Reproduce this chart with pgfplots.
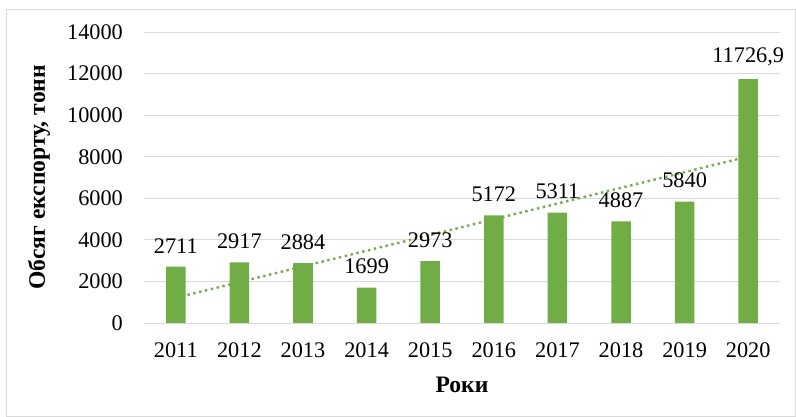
\documentclass[border=0pt]{standalone}
\usepackage{pgfplots}
\pgfplotsset{compat=1.18}
\usepackage{fontspec}
\setmainfont{Liberation Serif}
\definecolor{bargreen}{HTML}{70AD47}
\definecolor{gridgray}{HTML}{D9D9D9}
\begin{document}
\fontsize{22.3}{26}\selectfont
\begin{tikzpicture}
\begin{axis}[
  at={(0pt,0pt)}, anchor=south west,
  scale only axis, width=636pt, height=291pt,
  xmin=-0.5, xmax=9.5, ymin=0, ymax=14000,
  ytick={0,2000,...,14000},
  xtick={0,...,9},
  xticklabels={2011,2012,2013,2014,2015,2016,2017,2018,2019,2020},
  ymajorgrids, grid style={gridgray, line width=0.9pt},
  axis lines*=left,
  y axis line style={draw=none},
  x axis line style={draw=gridgray, line width=0.9pt, -},
  major tick length=0pt,
  scaled y ticks=false,
  /pgf/number format/assume math mode=true,
  /pgf/number format/1000 sep={},
  tick label style={font=\fontsize{22.3}{26}\selectfont},
  yticklabel style={xshift=-13.5pt},
  xticklabel style={yshift=-12.5pt},
  clip=false,
]
\addplot[ybar, bar width=19.5pt, fill=bargreen, draw=none,
  nodes near coords, point meta=explicit symbolic,
  every node near coord/.append style={font=\fontsize{22.3}{26}\selectfont, text=black, yshift=6pt}]
  coordinates {
  (0,2711) [2711]
  (1,2917) [2917]
  (2,2884) [2884]
  (3,1699) [1699]
  (4,2973) [2973]
  (5,5172) [5172]
  (6,5311) [5311]
  (7,4887) [4887]
  (8,5840) [5840]
  (9,11726.9) [{11726,9}]
  };
\addplot[bargreen, line width=2.4pt, dash pattern=on 2.4pt off 3.6pt, forget plot]
  coordinates {(0,1212) (9,8012)};
\end{axis}
\node[rotate=90, font=\fontsize{23.6}{28}\selectfont\bfseries] at ([xshift=-105pt]current axis.west) {Обсяг експорту, тонн};
\node[font=\fontsize{23.6}{28}\selectfont\bfseries] at ([yshift=-62pt]current axis.south) {Роки};
\draw[gridgray, line width=0.9pt] (-138pt,-93pt) rectangle (651pt,314pt);
\pgfresetboundingbox
\path (-144pt,-94pt) rectangle (652pt,323pt);
\end{tikzpicture}
\end{document}
